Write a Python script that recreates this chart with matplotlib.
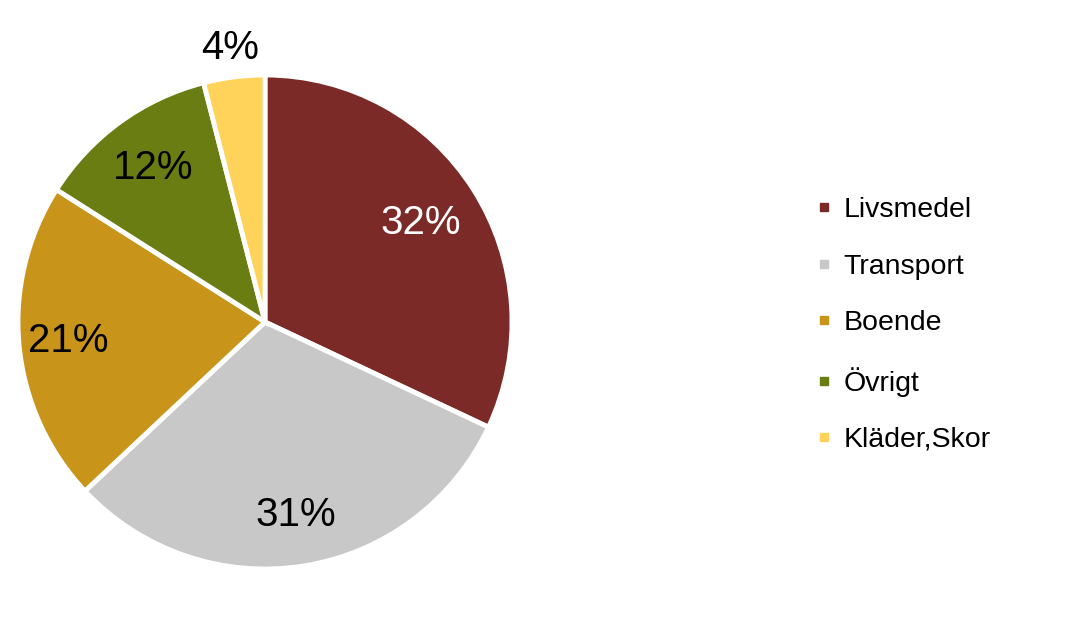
import numpy as np
import matplotlib
matplotlib.use('Agg')
import matplotlib.pyplot as plt
from matplotlib.lines import Line2D

plt.rcParams['font.family'] = ['Liberation Sans', 'DejaVu Sans']

categories = ['Livsmedel', 'Transport', 'Boende', 'Övrigt', 'Kläder,Skor']
shares = [32, 31, 21, 12, 4]
labels = ['32%', '31%', '21%', '12%', '4%']
colors = ['#7B2A27', '#C8C8C8', '#C8941A', '#6A7D12', '#FFD35A']
label_colors = ['white', 'black', 'black', 'black', 'black']
label_dist = [0.745, 0.79, 0.80, 0.77, 1.12]

fig = plt.figure(figsize=(10.85, 6.35), dpi=100)
cx, cy, r = 265, 322, 247
ax = fig.add_axes([(cx - r) / 1085, (635 - cy - r) / 635, 2 * r / 1085, 2 * r / 635])

wedges, _ = ax.pie(shares, colors=colors, startangle=90, counterclock=False,
                   radius=1, wedgeprops=dict(edgecolor='white', linewidth=3.5))
ax.set_xlim(-1, 1)
ax.set_ylim(-1, 1)
ax.set_aspect('equal')
ax.axis('off')

for w, lab, col, d in zip(wedges, labels, label_colors, label_dist):
    ang = np.deg2rad((w.theta1 + w.theta2) / 2)
    ax.text(d * np.cos(ang), d * np.sin(ang), lab, ha='center', va='center',
            fontsize=29, color=col, clip_on=False)

handles = [Line2D([], [], marker='s', linestyle='none', markersize=6,
                  markerfacecolor=c, markeredgecolor=c) for c in colors]
fig.legend(handles, categories, loc='center left', bbox_to_anchor=(0.754, 0.488),
           frameon=False, fontsize=20.5, handlelength=0.45, handletextpad=0.45,
           labelspacing=1.07, borderaxespad=0, borderpad=0)

fig.savefig('out.png', dpi=100)
